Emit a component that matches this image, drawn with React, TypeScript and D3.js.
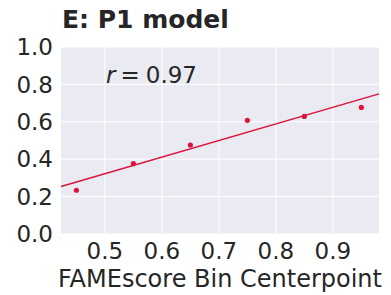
import React, { useEffect, useRef } from 'react';
import * as d3 from 'd3';

const binCenters = [0.45, 0.55, 0.65, 0.75, 0.85, 0.95];
const observed = [0.234, 0.376, 0.476, 0.608, 0.629, 0.677];
const xTicks = [0.5, 0.6, 0.7, 0.8, 0.9];
const yTicks = [0.0, 0.2, 0.4, 0.6, 0.8, 1.0];

export default function App() {
  const ref = useRef<SVGSVGElement>(null);

  useEffect(() => {
    const w = 391;
    const h = 295;
    const margin = { top: 47, right: 12, bottom: 61, left: 61 };
    const red = '#dc143c';
    const font = 'DejaVu Sans, sans-serif';
    const ink = '#262626';

    const svg = d3.select(ref.current);
    svg.selectAll('*').remove();

    const x = d3.scaleLinear().domain([0.423, 0.981]).range([margin.left, w - margin.right]);
    const y = d3.scaleLinear().domain([0, 1]).range([h - margin.bottom, margin.top]);

    svg.append('rect')
      .attr('x', margin.left)
      .attr('y', margin.top)
      .attr('width', w - margin.left - margin.right)
      .attr('height', h - margin.top - margin.bottom)
      .attr('fill', '#eaeaf2');

    svg.append('g').selectAll('line')
      .data(xTicks)
      .join('line')
      .attr('x1', d => x(d)).attr('x2', d => x(d))
      .attr('y1', margin.top).attr('y2', h - margin.bottom)
      .attr('stroke', 'white').attr('stroke-width', 1);

    svg.append('g').selectAll('line')
      .data(yTicks)
      .join('line')
      .attr('x1', margin.left).attr('x2', w - margin.right)
      .attr('y1', d => y(d)).attr('y2', d => y(d))
      .attr('stroke', 'white').attr('stroke-width', 1);

    // least squares fit across the visible x range
    const mx = d3.mean(binCenters)!;
    const my = d3.mean(observed)!;
    const slope = d3.sum(binCenters, (v, i) => (v - mx) * (observed[i] - my)) /
      d3.sum(binCenters, v => (v - mx) ** 2);
    const fit = (v: number) => my + slope * (v - mx);
    const [x0, x1] = x.domain();

    svg.append('line')
      .attr('x1', x(x0)).attr('y1', y(fit(x0)))
      .attr('x2', x(x1)).attr('y2', y(fit(x1)))
      .attr('stroke', red).attr('stroke-width', 1.5);

    svg.append('g').selectAll('circle')
      .data(binCenters)
      .join('circle')
      .attr('cx', d => x(d))
      .attr('cy', (d, i) => y(observed[i]))
      .attr('r', 2.6)
      .attr('fill', red);

    svg.append('g').selectAll('text')
      .data(yTicks)
      .join('text')
      .attr('x', margin.left - 8)
      .attr('y', d => y(d))
      .attr('dy', '0.36em')
      .attr('text-anchor', 'end')
      .attr('font-family', font)
      .attr('font-size', 23)
      .attr('fill', ink)
      .text(d => d.toFixed(1));

    svg.append('g').selectAll('text')
      .data(xTicks)
      .join('text')
      .attr('x', d => x(d))
      .attr('y', 259)
      .attr('text-anchor', 'middle')
      .attr('font-family', font)
      .attr('font-size', 23)
      .attr('fill', ink)
      .text(d => d.toFixed(1));

    svg.append('text')
      .attr('x', (margin.left + w - margin.right) / 2)
      .attr('y', 287)
      .attr('text-anchor', 'middle')
      .attr('font-family', font)
      .attr('font-size', 24)
      .attr('fill', ink)
      .text('FAMEscore Bin Centerpoint');

    svg.append('text')
      .attr('x', margin.left + 1)
      .attr('y', 28)
      .attr('font-family', font)
      .attr('font-size', 25)
      .attr('font-weight', 'bold')
      .attr('fill', ink)
      .text('E: P1 model');

    const rt = svg.append('text')
      .attr('x', 106)
      .attr('y', 83)
      .attr('font-family', font)
      .attr('font-size', 23)
      .attr('fill', ink);
    rt.append('tspan').attr('font-style', 'italic').text('r');
    rt.append('tspan').attr('dx', 5).text('=');
    rt.append('tspan').attr('dx', 6).text('0.97');
  }, []);

  return (
    <svg ref={ref} width={391} height={295} style={{ position: 'absolute', left: 0, top: 0, background: 'white' }} />
  );
}
